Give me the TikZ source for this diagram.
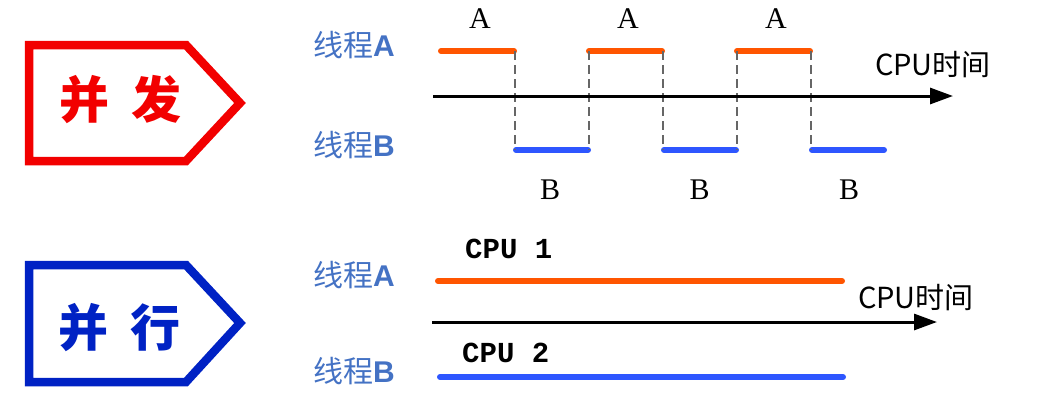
\documentclass[tikz,border=0pt]{standalone}
\usepackage{fontspec}
\usepackage{xcolor}
\newfontfamily\cjkfont{Noto Sans CJK SC}
\newfontfamily\latinsans{Liberation Sans}
\newfontfamily\latinserif{Liberation Serif}
\newfontfamily\latinmono{Liberation Mono}
\usetikzlibrary{arrows.meta}
\definecolor{tagred}{HTML}{F20000}
\definecolor{tagblue}{HTML}{0022C4}
\definecolor{labelblue}{HTML}{4472C4}
\definecolor{runorange}{HTML}{FF5500}
\definecolor{runblue}{HTML}{2E56FF}

\begin{document}
\begin{tikzpicture}[x=1pt, y=-1pt,
  tag/.style={line width=8.5pt, miter limit=10},
  tagtext/.style={font=\cjkfont\bfseries\fontsize{50}{54}\selectfont, inner sep=0pt},
  threadlabel/.style={font=\cjkfont\fontsize{30}{34}\selectfont, text=labelblue,
    anchor=west, inner sep=0pt},
  run/.style={line width=6pt, line cap=round},
  switch/.style={draw=black!60, line width=2pt, dash pattern=on 9pt off 5pt},
  timeaxis/.style={-{Triangle[length=23pt, width=16pt]}, line width=3pt},
  slotlabel/.style={font=\latinserif\fontsize{30}{33}\selectfont, inner sep=0pt},
  axislabel/.style={font=\cjkfont\fontsize{29}{33}\selectfont, inner sep=0pt},
  cpulabel/.style={font=\latinmono\bfseries\fontsize{29}{32}\selectfont,
    anchor=west, inner sep=0pt}
]
\useasboundingbox (0,0) rectangle (1058,405);

% concurrent
\draw[tag, draw=tagred] (29,45) -- (186,45) -- (240,103) -- (186,161)
  -- (29,161) -- cycle;
\node[tagtext, text=tagred] (concurrent) at (120,100) {并\hspace{22pt}发};
\node[threadlabel] (topA) at (313,45) {线程{\latinsans\bfseries A}};
\node[threadlabel] (topB) at (313,145) {线程{\latinsans\bfseries B}};
\foreach \k in {0,1,2} {
  \draw[run, draw=runorange] (441+148*\k,51) -- (514+148*\k,51);
  \draw[run, draw=runblue] (516+148*\k,150) -- (588+148*\k,150);
  \node[slotlabel] (sliceA\k) at (480+148*\k,19) {A};
  \node[slotlabel] (sliceB\k) at (550+149.5*\k,190) {B};
}
\foreach \j in {0,...,4}
  \draw[switch] (515+74*\j,51) -- (515+74*\j,150);
\coordinate (topstart) at (433,96);
\coordinate (topend) at (953,96);
\draw[timeaxis] (topstart) -- (topend);
\node[axislabel] (toptime) at (933,65) {CPU时间};

% parallel
\draw[tag, draw=tagblue] (29,265) -- (186,265) -- (240,323) -- (186,382)
  -- (29,382) -- cycle;
\node[tagtext, text=tagblue] (parallel) at (119,328) {并\hspace{22pt}行};
\node[threadlabel] (botA) at (313,275) {线程{\latinsans\bfseries A}};
\node[threadlabel] (botB) at (313,371) {线程{\latinsans\bfseries B}};
\node[cpulabel] (cpu1) at (465,249) {CPU 1};
\node[cpulabel] (cpu2) at (462,353) {CPU 2};
\draw[run, draw=runorange] (438,281) -- (842,281);
\draw[run, draw=runblue] (440,377) -- (843,377);
\coordinate (botstart) at (432,322);
\coordinate (botend) at (937,322);
\draw[timeaxis] (botstart) -- (botend);
\node[axislabel] (bottime) at (916,298) {CPU时间};
\end{tikzpicture}
\end{document}
